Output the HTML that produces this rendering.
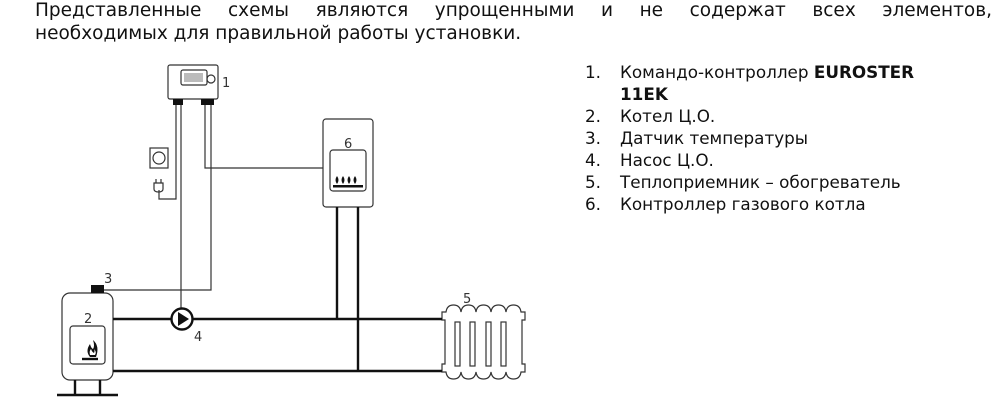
<!DOCTYPE html>
<html><head><meta charset="utf-8"><style>
body{margin:0;width:1000px;height:410px;background:#fff;position:relative;overflow:hidden;font-family:"DejaVu Sans","Liberation Sans",sans-serif;color:#111}
.top{position:absolute;left:35px;top:-1px;width:957px;font-size:18.5px;line-height:23px;text-align:justify;text-align-last:left}
.top span{display:block;white-space:nowrap}
.l1{text-align:justify;text-align-last:justify;white-space:normal!important}
ol{position:absolute;left:585px;top:61px;margin:0;padding:0;list-style:none;font-size:16.8px;line-height:22px}
li{position:relative;padding-left:35px;width:310px}
li b{font-weight:bold}
li i{position:absolute;left:0;font-style:normal}
</style></head><body>
<div class="top"><span class="l1">Представленные схемы являются упрощенными и не содержат всех элементов,</span><span>необходимых для правильной работы установки.</span></div>
<ol>
<li><i>1.</i>Командо-контроллер <b>EUROSTER 11EK</b></li>
<li><i>2.</i>Котел Ц.О.</li>
<li><i>3.</i>Датчик температуры</li>
<li><i>4.</i>Насос Ц.О.</li>
<li><i>5.</i>Теплоприемник – обогреватель</li>
<li><i>6.</i>Контроллер газового котла</li>
</ol>
<svg width="1000" height="410" style="position:absolute;left:0;top:0" font-family="DejaVu Sans,sans-serif" font-size="13" fill="#333">
<g fill="none" stroke="#333" stroke-width="1.2">
<rect x="168" y="65" width="50" height="34" rx="2"/>
<rect x="181" y="70" width="26" height="15" rx="2"/>
<rect x="184" y="73" width="19" height="9" fill="#bbb" stroke="none"/>
<circle cx="211" cy="79" r="4"/>
<path d="M176 99V199H159V190"/>
<path d="M181 99V309"/>
<path d="M205 99V168H323"/>
<path d="M211 99V290H104"/>
<rect x="150" y="148" width="18" height="20"/>
<circle cx="159" cy="158" r="6"/>
<path d="M154 183h9v6q0 3-4.5 3t-4.5-3z M156 179v4 M161 179v4"/>
<rect x="323" y="119" width="50" height="88" rx="3"/>
<rect x="330" y="150" width="36" height="41" rx="3"/>
<rect x="62" y="293" width="51" height="87" rx="8"/>
<rect x="70" y="326" width="35" height="38" rx="3"/>
<path d="M442 312h4q1-7 7.5-7t7.5 7q1-7 7.5-7t7.5 7q1-7 7.5-7t7.5 7q1-7 7.5-7t7.5 7q1-7 7.5-7t7.5 7h4v8h-3v44h3v8h-4q-1 7-7.5 7t-7.5-7q-1 7-7.5 7t-7.5-7q-1 7-7.5 7t-7.5-7q-1 7-7.5 7t-7.5-7q-1 7-7.5 7t-7.5-7h-4v-8h3v-44h-3z"/>
<rect x="455" y="322" width="5" height="44"/><rect x="470" y="322" width="5" height="44"/><rect x="486" y="322" width="5" height="44"/><rect x="501" y="322" width="5" height="44"/>
</g>
<g stroke="#111" stroke-width="2.4" fill="none">
<path d="M113 319H171 M193 319H442 M113 371H442"/>
<path d="M337 207V319 M358 207V371"/>
<path d="M75 380V394 M100 380V394 M57 395H118"/>
<circle cx="182" cy="319" r="10.5"/>
<path d="M82 359H98"/>
</g>
<path d="M178 312L189 319L178 326Z" fill="#111"/>
<rect x="91" y="285" width="13" height="8" fill="#111"/>
<path d="M90 357q-5-6 0-13q1 4 3 5q2-3 0-9q7 6 3 17z" fill="#111"/>
<path d="M90 355q-1-4 1-6q1 3 3 4q1-2 0-4q3 3 1 6z" fill="#fff"/>
<g fill="#111">
<rect x="333" y="185" width="30" height="2.5"/>
<path d="M337 184q-3-4 0-8q3 4 0 8zM343 184q-3-4 0-8q3 4 0 8zM349 184q-3-4 0-8q3 4 0 8zM355 184q-3-4 0-8q3 4 0 8z"/>
<rect x="173" y="99" width="10" height="6"/><rect x="201" y="99" width="13" height="6"/>
</g>
<text x="222" y="87">1</text><text x="84" y="323">2</text><text x="104" y="283">3</text>
<text x="194" y="341">4</text><text x="463" y="303">5</text><text x="344" y="148">6</text>
</svg>
</body></html>
